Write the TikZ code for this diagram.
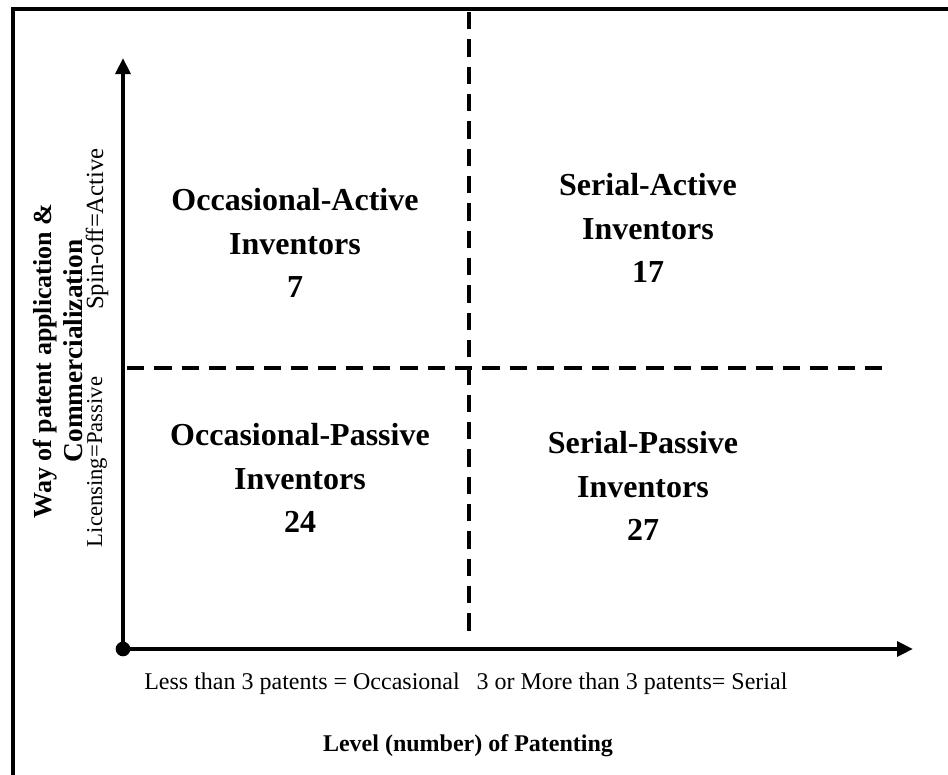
\documentclass[tikz,border=0pt]{standalone}
\usepackage{fontspec}
\setmainfont{Liberation Serif}
\usetikzlibrary{arrows.meta}
\begin{document}
\begin{tikzpicture}[x=0.75pt,y=-0.75pt,
  quad/.style={font=\bfseries\fontsize{24}{32.5}\selectfont, align=center, inner sep=0pt},
  axislbl/.style={font=\fontsize{18}{22}\selectfont, inner sep=0pt},
  sidelbl/.style={font=\fontsize{17}{20}\selectfont, inner sep=0pt, rotate=90},
  axis/.style={line width=3pt, -{Triangle[length=12pt,width=11pt]}},
  divider/.style={line width=3pt, dash pattern=on 13pt off 7.5pt},
]
\useasboundingbox (0,0) rectangle (948,774);
\begin{scope}
  \clip (0,0) rectangle (948,774);
  \draw[line width=3pt] (13,800) -- (13,9) -- (970,9);
\end{scope}

% axes
\coordinate (O) at (123,649);
\coordinate (ytip) at (123,58);
\coordinate (xtip) at (913,649);
\draw[axis] (O) -- (ytip);
\draw[axis] (O) -- (xtip);
\fill (O) circle (5.5pt);

% dividers
\coordinate (hL) at (127,368);
\coordinate (hR) at (885,368);
\coordinate (vT) at (469,12);
\coordinate (vB) at (469,640);
\draw[divider] (hL) -- (hR);
\draw[divider] (vT) -- (vB);

% quadrant labels
\node[quad] (oa) at (295,243) {Occasional-Active\\Inventors\\7};
\node[quad] (sa) at (648,228) {Serial-Active\\Inventors\\17};
\node[quad] (op) at (300,478) {Occasional-Passive\\Inventors\\24};
\node[quad] (sp) at (643,486) {Serial-Passive\\Inventors\\27};

% x-axis labels
\node[axislbl] (less) at (302,684) {Less than 3 patents = Occasional};
\node[axislbl] (more) at (632,684) {3 or More than 3 patents= Serial};
\node[axislbl, font=\bfseries\fontsize{18}{22}\selectfont] (xlab) at (468,746) {Level (number) of Patenting};

% y-axis labels
\node[inner sep=0pt, rotate=90, font=\bfseries\fontsize{19.5}{24}\selectfont] (way) at (45,361) {Way of patent application  \&};
\node[inner sep=0pt, rotate=90, font=\bfseries\fontsize{20.5}{24}\selectfont] (comm) at (73,351) {Commercialization};
\node[sidelbl] (lic) at (97,462) {Licensing=Passive};
\node[sidelbl, font=\fontsize{18.5}{22}\selectfont] (spin) at (97,229) {Spin-off=Active};
\end{tikzpicture}
\end{document}
